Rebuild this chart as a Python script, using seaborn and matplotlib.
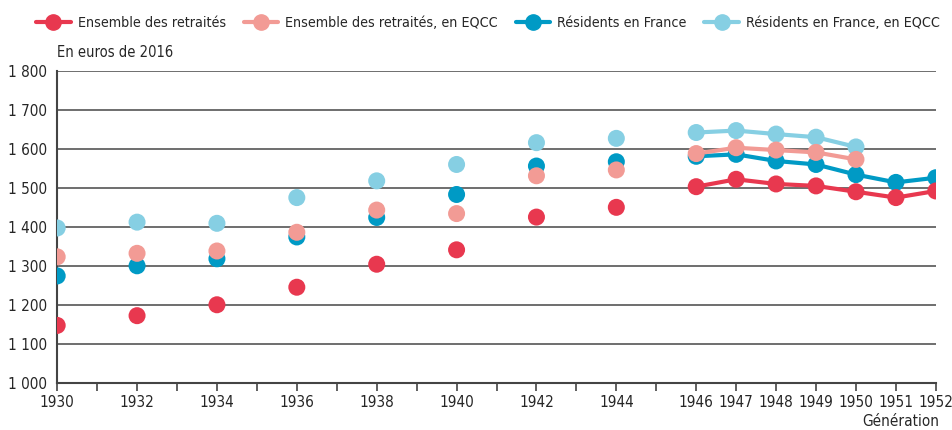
import numpy as np
import pandas as pd
import matplotlib
matplotlib.use("Agg")
import matplotlib.pyplot as plt
from matplotlib.lines import Line2D
from matplotlib.ticker import FuncFormatter
import seaborn as sns

# generations and mean pension values (euros 2016)
generations = [1930, 1932, 1934, 1936, 1938, 1940, 1942, 1944,
               1946, 1947, 1948, 1949, 1950, 1951, 1952]
retraites = [1147, 1172, 1200, 1245, 1304, 1341, 1425, 1450,
             1503, 1522, 1510, 1505, 1490, 1475, 1492]
retraites_eqcc = [1323, 1332, 1338, 1386, 1443, 1434, 1531, 1546,
                  1588, 1603, 1597, 1591, 1573, np.nan, np.nan]
residents = [1274, 1300, 1318, 1374, 1424, 1483, 1556, 1567,
             1581, 1586, 1569, 1560, 1534, 1514, 1526]
residents_eqcc = [1397, 1412, 1409, 1475, 1518, 1560, 1616, 1627,
                  1642, 1647, 1638, 1630, 1605, np.nan, np.nan]

series_names = ["Ensemble des retraités", "Ensemble des retraités, en EQCC",
                "Résidents en France", "Résidents en France, en EQCC"]
colors = ["#E8384F", "#F29B95", "#009AC5", "#86CFE3"]
first_yearly = 1946  # yearly data (joined by a line) starts here

df = pd.DataFrame({"generation": generations,
                   series_names[0]: retraites,
                   series_names[1]: retraites_eqcc,
                   series_names[2]: residents,
                   series_names[3]: residents_eqcc})
long_df = df.melt(id_vars="generation", var_name="serie", value_name="valeur").dropna()

sns.set_style("white")
plt.rcParams["font.family"] = ["Liberation Sans Narrow", "DejaVu Sans"]
plt.rcParams["font.stretch"] = "condensed"

fig = plt.figure(figsize=(9.53, 4.3), dpi=100)
ax = fig.add_axes([0.06, 0.11, 0.922, 0.725])

palette = dict(zip(series_names, colors))
draw_order = [series_names[2], series_names[3], series_names[1], series_names[0]]
for name in draw_order:
    sub = long_df[long_df["serie"] == name]
    yearly = sub[sub["generation"] >= first_yearly]
    sns.lineplot(data=yearly, x="generation", y="valeur", color=palette[name],
                 linewidth=3, ax=ax, zorder=3, legend=False)
    sns.scatterplot(data=sub, x="generation", y="valeur", color=palette[name],
                    s=150, edgecolor="none", ax=ax, zorder=4, legend=False)

ax.set_xlim(1930, 1952)
ax.set_ylim(1000, 1800)
ax.set_yticks(range(1000, 1801, 100))
ax.yaxis.set_major_formatter(FuncFormatter(lambda v, p: f"{int(v):,}".replace(",", " ")))
ax.set_xticks(generations)
ax.set_xticks(range(1930, 1953), minor=True)
ax.set_xticklabels([str(g) for g in generations])
ax.grid(axis="y", color="#555555", linewidth=1.2)
ax.set_axisbelow(True)
for side in ["top", "right"]:
    ax.spines[side].set_visible(False)
for side in ["left", "bottom"]:
    ax.spines[side].set_color("#444444")
    ax.spines[side].set_linewidth(1.5)
ax.tick_params(axis="x", which="both", direction="out", length=6, width=1.2,
               color="#444444", labelsize=11, pad=3, bottom=True)
ax.tick_params(axis="y", length=0, labelsize=11, pad=7)
ax.set_xlabel("")
ax.set_ylabel("")

fig.text(0.06, 0.86, "En euros de 2016", fontsize=10.5, ha="left", va="bottom")
fig.text(0.986, 0.003, "Génération", fontsize=11, ha="right", va="bottom")

handles = [Line2D([0], [0], color=c, linewidth=3, marker="o", markersize=11)
           for c in colors]
fig.legend(handles, series_names, loc="upper left", bbox_to_anchor=(0.038, 0.962),
           ncol=4, frameon=False, fontsize=10.3, handlelength=2.4,
           columnspacing=1.25, handletextpad=0.5, borderpad=0, borderaxespad=0)

fig.savefig("out.png", dpi=100)
